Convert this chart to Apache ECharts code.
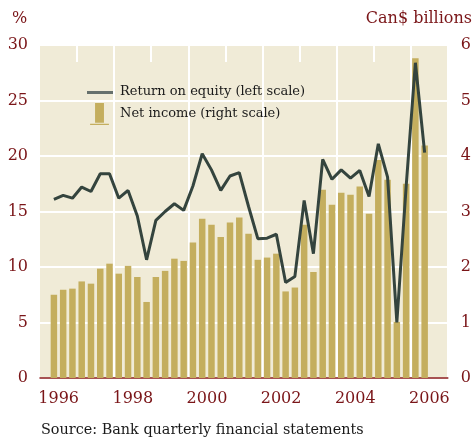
<!DOCTYPE html>
<html>
<head>
<meta charset="utf-8">
<script src="https://cdn.jsdelivr.net/npm/echarts@6/dist/echarts.min.js"></script>
<style>
  html, body { margin: 0; padding: 0; background: #fff; }
  #chart { width: 474px; height: 442px; }
</style>
</head>
<body>
<div id="chart"></div>
<script>
const years = [1996, 1997, 1998, 1999, 2000, 2001, 2002, 2003, 2004, 2005, 2006]
const quarters = years.flatMap(y => ['Q1', 'Q2', 'Q3', 'Q4'].map(q => y + ' ' + q))

// Return on equity, % (left scale); null where no data
const roe = [
  null, 16.1, 16.45, 16.2, 17.2, 16.8, 18.4, 18.4, 16.2, 16.9, 14.6,
  10.65, 14.2, 15.0, 15.7, 15.1, 17.3, 20.2, 18.75, 16.9, 18.2,
  18.5, 15.45, 12.55, 12.6, 12.95, 8.6, 9.15, 16.0, 11.2, 19.7,
  17.9, 18.75, 18.0, 18.7, 16.35, 21.1, 18.1, 5.0, 17.2, 28.4, 20.3,
  null, null,
]

// Net income, Can$ billions (right scale)
const netIncome = [
  null, 1.50, 1.59, 1.61, 1.74, 1.70, 1.97, 2.06, 1.88, 2.02, 1.82,
  1.37, 1.82, 1.93, 2.15, 2.11, 2.44, 2.87, 2.76, 2.54, 2.80,
  2.89, 2.60, 2.13, 2.17, 2.24, 1.56, 1.63, 2.76, 1.91, 3.39,
  3.12, 3.34, 3.30, 3.45, 2.96, 3.93, 3.57, 1.01, 3.50, 5.76, 4.19,
  null, null,
]

const red = '#7a1518'
const serif = 'DejaVu Serif'

const chart = echarts.init(document.getElementById('chart'), null, { renderer: 'canvas' })

chart.setOption({
  animation: false,
  backgroundColor: '#fff',
  grid: {
    left: 40, right: 24, top: 45, bottom: 64,
    show: true, backgroundColor: '#f0ebd7', borderWidth: 0,
  },
  legend: {
    orient: 'vertical',
    left: 87, top: 81, padding: 0,
    itemWidth: 26, itemHeight: 22, itemGap: 0,
    textStyle: { fontFamily: serif, fontSize: 13, color: '#1a1a1a', padding: [0, 0, 0, 2] },
    data: [
      {
        name: 'Return on equity (left scale)',
        icon: 'path://M0,0M26,22M0,10h26v3h-26z',
        itemStyle: { color: '#66706c' },
      },
      {
        name: 'Net income (right scale)',
        icon: 'path://M0,0M26,22M8,0h9v20h-9zM3,21h19v1.2h-19z',
      },
    ],
  },
  xAxis: [
    {
      type: 'category',
      data: quarters,
      axisLine: { lineStyle: { color: '#8b1a1a', width: 1.5 } },
      axisTick: { show: false },
      axisLabel: {
        interval: (i) => i % 8 === 2,
        formatter: (v) => v.slice(0, 4),
        color: red, fontFamily: serif, fontSize: 16,
        margin: 13, padding: [0, 9, 0, 0],
      },
      splitLine: {
        show: true,
        interval: (i) => i > 0 && i % 8 === 0,
        lineStyle: { color: '#fff', width: 2 },
      },
    },
    {
      // short white ticks along the top for odd years
      type: 'category',
      data: quarters,
      position: 'top',
      axisLine: { show: false, onZero: false },
      axisLabel: { show: false },
      axisTick: {
        show: true, inside: true, length: 17,
        interval: (i) => i % 8 === 4,
        lineStyle: { color: '#fff', width: 2 },
      },
    },
  ],
  yAxis: [
    {
      type: 'value', min: 0, max: 30, interval: 5,
      axisLine: { show: false }, axisTick: { show: false },
      axisLabel: { color: red, fontFamily: serif, fontSize: 16, margin: 12 },
      splitLine: { lineStyle: { color: '#fff', width: 2 } },
    },
    {
      type: 'value', min: 0, max: 6, interval: 1,
      axisLine: { show: false }, axisTick: { show: false },
      axisLabel: { color: red, fontFamily: serif, fontSize: 16, margin: 13 },
      splitLine: { show: false },
    },
  ],
  graphic: [
    { type: 'text', left: 12, top: 11, style: { text: '%', fill: red, font: '16px "DejaVu Serif"' } },
    { type: 'text', right: 2, top: 11, style: { text: 'Can$ billions', fill: red, font: '16px "DejaVu Serif"' } },
    { type: 'text', left: 41, top: 423, style: { text: 'Source: Bank quarterly financial statements', fill: '#1a1a1a', font: '14.4px "DejaVu Serif"' } },
  ],
  series: [
    {
      name: 'Net income (right scale)',
      type: 'bar',
      yAxisIndex: 1,
      data: netIncome,
      barWidth: '70%',
      itemStyle: { color: '#c4ae5e' },
    },
    {
      name: 'Return on equity (left scale)',
      type: 'line',
      data: roe,
      symbol: 'none',
      lineStyle: { color: '#34443e', width: 3 },
      itemStyle: { color: '#34443e' },
    },
  ],
})
</script>
</body>
</html>
